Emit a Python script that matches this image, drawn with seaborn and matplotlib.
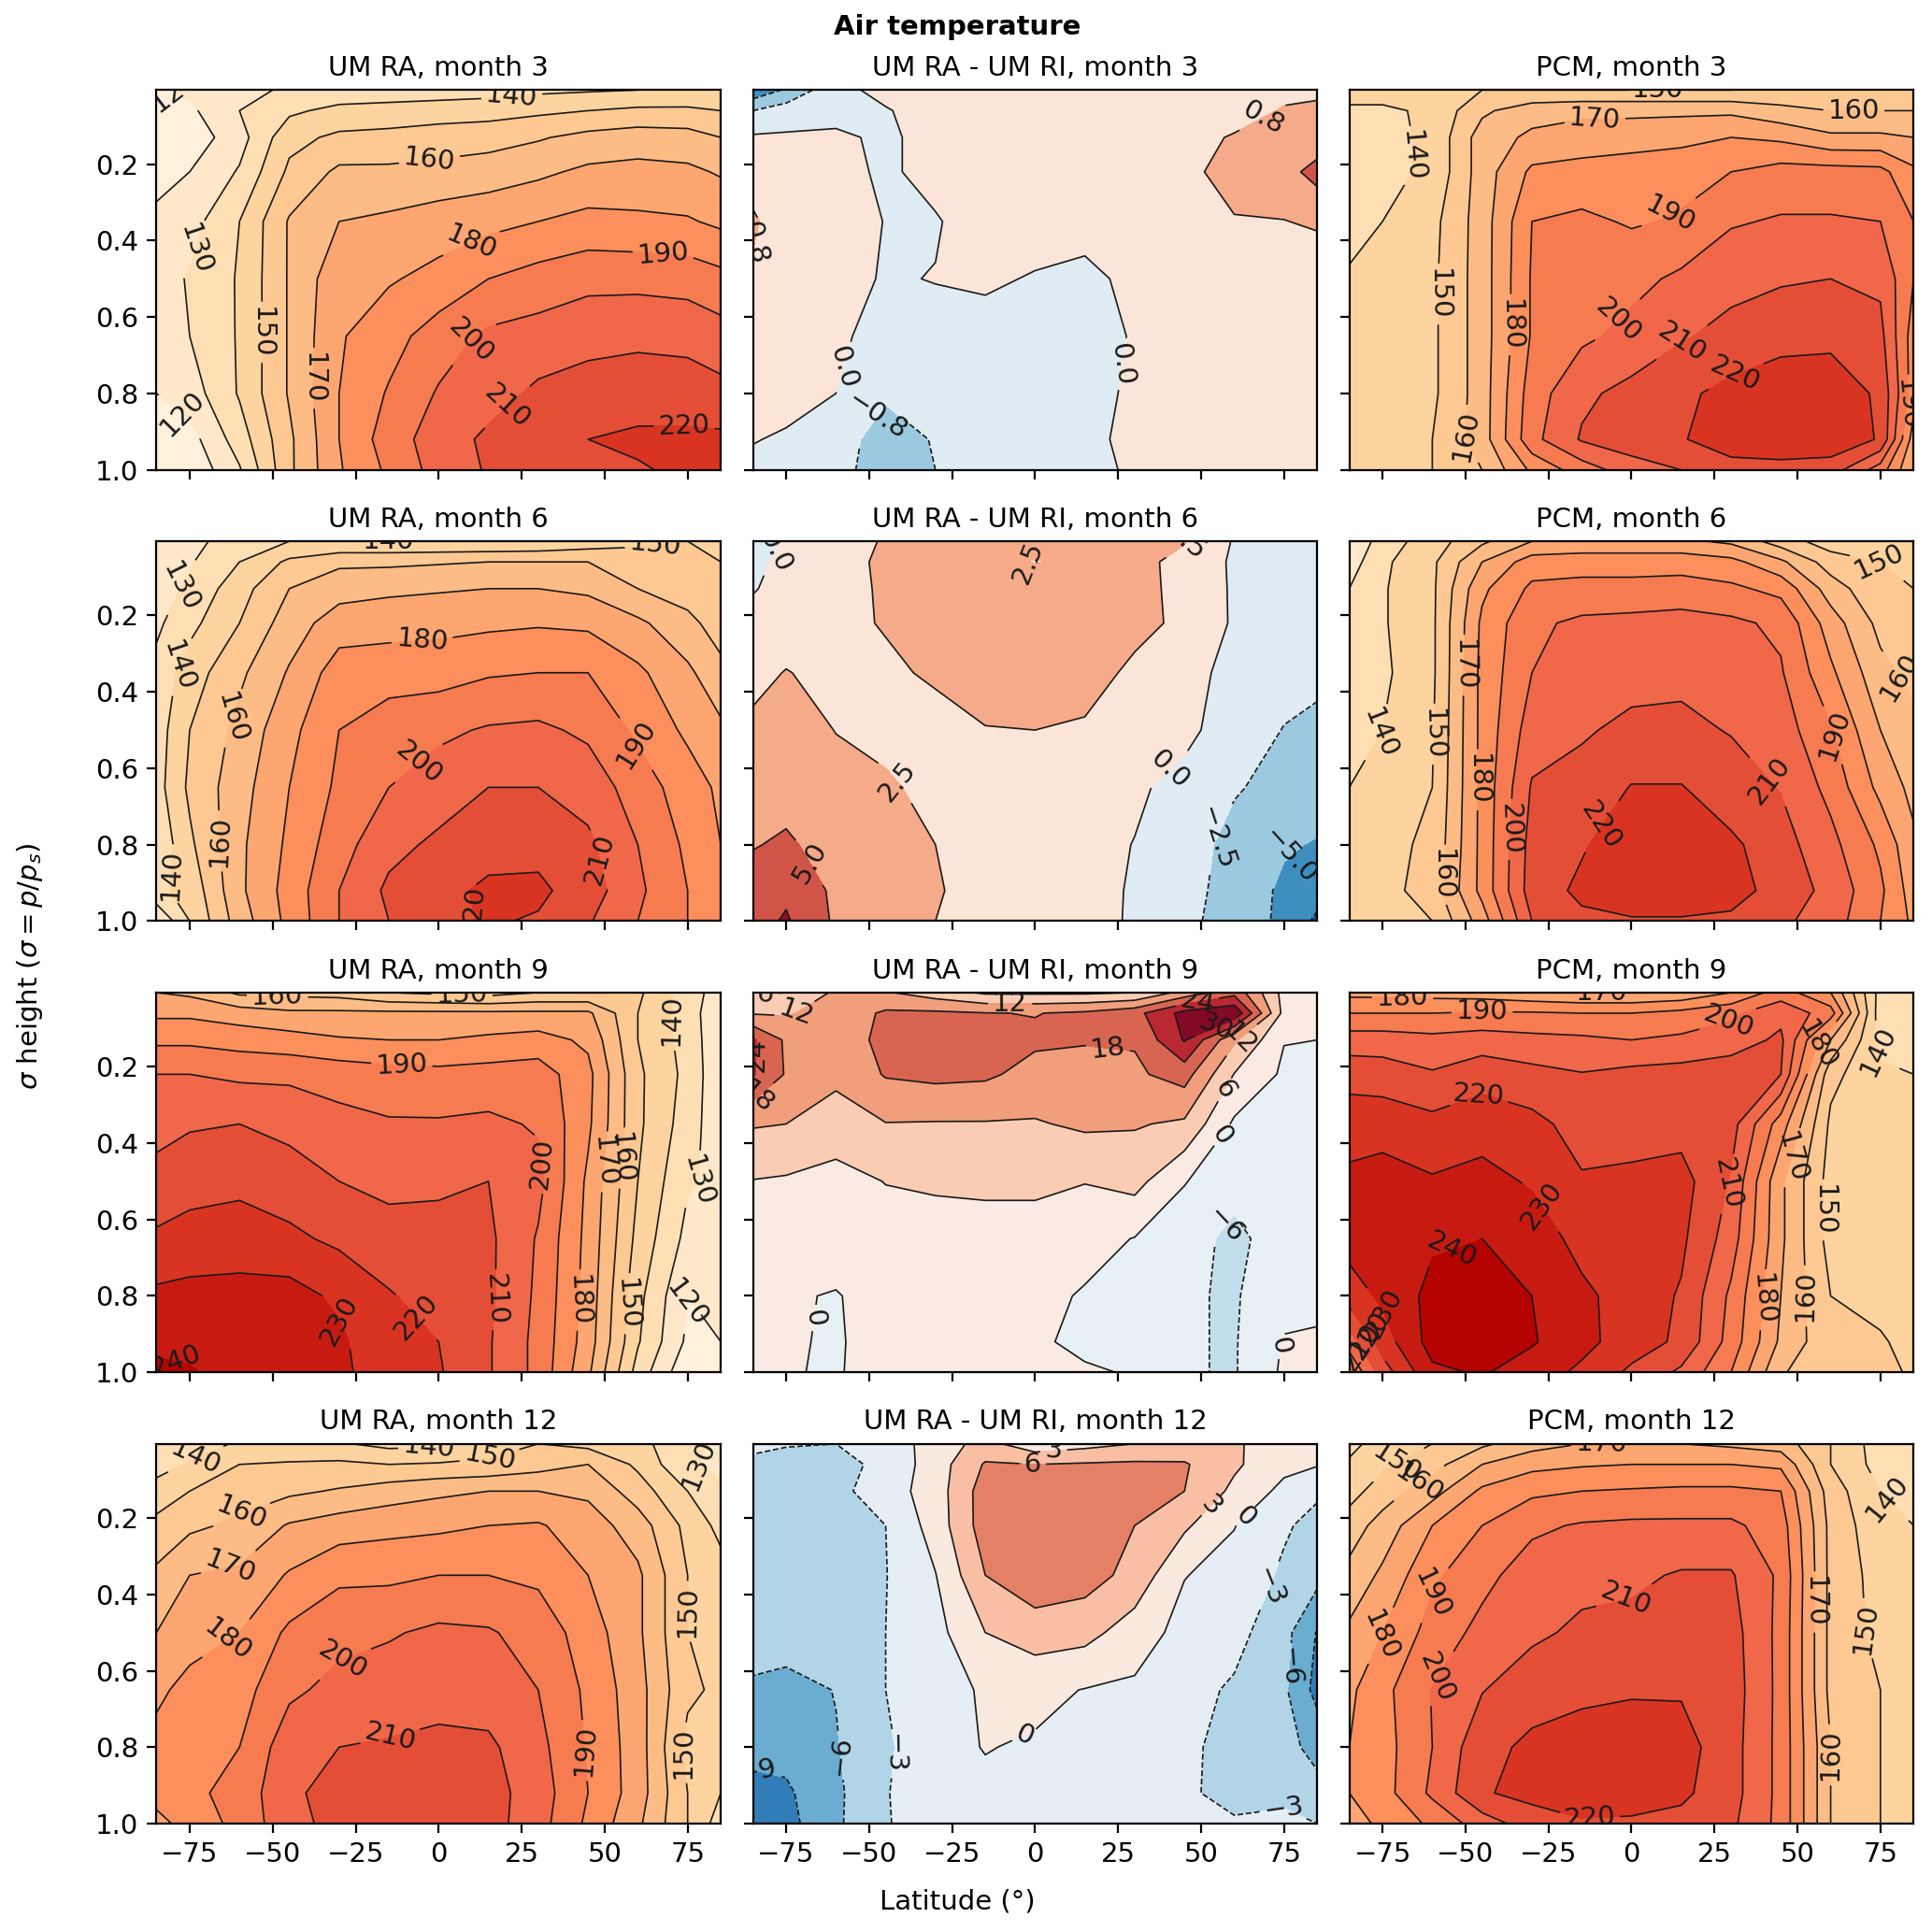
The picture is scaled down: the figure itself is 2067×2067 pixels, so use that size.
import numpy as np
import matplotlib
matplotlib.use("Agg")
import matplotlib.pyplot as plt
import seaborn as sns

lats = [-85, -75, -60, -45, -30, -15, 0, 15, 30, 45, 60, 75, 85]
sigma = [0.006, 0.06, 0.13, 0.22, 0.35, 0.5, 0.65, 0.8, 0.92, 1.0]

# rows follow sigma, columns follow lats
ra_m3 = [
    [118, 122, 128, 131, 133, 134, 135, 136, 138, 139, 140, 141, 141],
    [115, 118, 130, 138, 143, 144, 145, 146, 148, 150, 152, 152, 150],
    [110, 114, 126, 147, 152, 153, 155, 156, 159, 163, 165, 164, 160],
    [117, 120, 131, 152, 162, 162, 163, 165, 168, 172, 173, 172, 169],
    [122, 126, 140, 161, 170, 172, 175, 177, 180, 183, 182, 181, 178],
    [125, 131, 141, 161, 177, 179, 183, 190, 194, 197, 197, 196, 193],
    [127, 130, 141, 161, 179, 186, 195, 202, 204, 207, 208, 207, 204],
    [120, 125, 141, 161, 180, 191, 201, 206, 212, 214, 215, 215, 213],
    [113, 116, 135, 158, 180, 195, 205, 212, 216, 220, 222, 222, 222],
    [110, 112, 129, 158, 179, 192, 204, 211, 214, 216, 219, 222, 224],
]
diff_m3 = [
    [-2.2, -1.5, -0.2, 0.2, 0.2, 0.3, 0.3, 0.3, 0.3, 0.3, 0.3, 0.5, 0.6],
    [-0.8, -0.4, -0.2, -0.05, 0.3, 0.3, 0.3, 0.3, 0.3, 0.3, 0.3, 0.9, 1.0],
    [0.1, 0.1, 0.1, -0.1, 0.2, 0.3, 0.3, 0.3, 0.3, 0.4, 0.9, 1.1, 1.1],
    [0.5, 0.3, 0.2, -0.1, 0.2, 0.3, 0.3, 0.3, 0.3, 0.6, 1.1, 1.3, 1.9],
    [0.9, 0.4, 0.3, -0.02, -0.05, 0.3, 0.3, 0.3, 0.3, 0.6, 0.75, 0.78, 0.9],
    [0.7, 0.3, 0.2, -0.05, 0.02, 0.1, -0.05, -0.2, 0.2, 0.3, 0.3, 0.3, 0.3],
    [0.3, 0.2, 0.1, -0.2, -0.2, -0.25, -0.25, -0.25, 0.05, 0.3, 0.3, 0.3, 0.3],
    [0.2, 0.15, 0.0, -0.7, -0.4, -0.2, -0.2, -0.2, 0.1, 0.3, 0.3, 0.3, 0.3],
    [0.02, -0.05, -0.5, -1.1, -0.75, -0.2, -0.2, -0.1, 0.1, 0.3, 0.3, 0.3, 0.3],
    [-0.1, -0.1, -0.6, -1.1, -0.8, -0.2, -0.2, -0.2, 0.1, 0.3, 0.3, 0.3, 0.3],
]
pcm_m3 = [
    [145, 145, 148, 150, 150, 150, 150, 150, 150, 152, 157, 158, 158],
    [138, 138, 142, 158, 166, 168, 168, 168, 168, 163, 160, 160, 160],
    [138, 137, 142, 165, 172, 174, 175, 177, 180, 178, 172, 172, 170],
    [136, 137, 142, 165, 182, 184, 186, 187, 190, 194, 194, 193, 182],
    [134, 140, 147, 165, 190, 192, 189, 191, 199, 201, 201, 200, 190],
    [142, 144, 148, 165, 191, 197, 197, 202, 207, 209, 210, 208, 190],
    [145, 146, 148, 165, 191, 198, 203, 209, 213, 216, 217, 213, 185],
    [146, 147, 148, 165, 195, 208, 213, 218, 223, 227, 227, 218, 185],
    [146, 147, 150, 165, 197, 211, 216, 219, 227, 228, 227, 219, 175],
    [145, 146, 150, 160, 182, 195, 205, 210, 215, 216, 215, 195, 170],
]
ra_m6 = [
    [120, 127, 135, 140, 140, 140, 140, 140, 141, 144, 148, 150, 150],
    [122, 129, 140, 152, 158, 158, 159, 160, 160, 160, 155, 152, 150],
    [125, 132, 146, 160, 166, 168, 169, 170, 170, 168, 160, 155, 150],
    [128, 137, 150, 165, 175, 176, 177, 178, 179, 178, 172, 163, 155],
    [133, 145, 158, 171, 185, 186, 186, 189, 190, 190, 182, 172, 163],
    [135, 150, 163, 177, 190, 195, 198, 201, 202, 198, 188, 178, 172],
    [136, 152, 166, 180, 192, 200, 205, 210, 210, 206, 195, 185, 178],
    [132, 148, 168, 182, 196, 207, 212, 216, 217, 212, 200, 188, 180],
    [138, 143, 168, 184, 200, 212, 217, 222, 222, 215, 202, 190, 183],
    [120, 140, 165, 183, 200, 210, 217, 221, 219, 211, 200, 190, 185],
]
diff_m6 = [
    [-1, 0.2, 1.5, 2.7, 2.8, 2.8, 2.8, 2.8, 2.8, 2.6, -0.2, -1, -1],
    [-0.8, 0.8, 1.5, 3.0, 3.2, 2.8, 2.45, 2.7, 3, 2.0, -0.4, -1, -1],
    [-0.2, 1, 1.7, 2.8, 3.5, 3.5, 3.5, 3.5, 3.3, 1.8, -0.3, -1, -1.1],
    [1.0, 1.3, 1.8, 2.7, 3.6, 3.8, 3.8, 3.8, 3.2, 2.0, -0.3, -1.2, -1.3],
    [1.8, 2.6, 1.8, 2.0, 2.9, 3.7, 3.7, 3.5, 2.0, 0.7, -0.6, -1.5, -1.8],
    [3.0, 3.5, 2.45, 1.5, 1.5, 2.4, 2.5, 2.2, 1.4, 0.5, -1.0, -2.6, -3.2],
    [3.5, 3.7, 3.2, 3.0, 1.5, 1.1, 1.0, 0.9, 0.3, -0.6, -2.3, -3.2, -3.6],
    [4.8, 5.5, 3.6, 3.2, 2.5, 1.2, 1.0, 0.6, -0.05, -1.5, -3.2, -4.7, -5.2],
    [6.5, 7, 4.5, 3.3, 2.8, 1.2, 1, 0.7, -0.2, -1.8, -3.3, -5.5, -6.5],
    [6.5, 7.8, 4.6, 3.3, 2.5, 1, 1, 0.6, -0.2, -2.0, -3.4, -5.6, -8],
]
pcm_m6 = [
    [120, 135, 145, 158, 170, 172, 172, 172, 168, 155, 145, 140, 140],
    [125, 138, 148, 170, 185, 186, 186, 186, 183, 172, 155, 150, 147],
    [130, 139, 148, 178, 192, 193, 193, 194, 192, 187, 165, 152, 150],
    [132, 139, 148, 182, 198, 202, 203, 204, 202, 198, 175, 157, 152],
    [132, 138, 148, 183, 200, 206, 207, 208, 207, 201, 182, 163, 157],
    [135, 140, 149, 183, 205, 209, 212, 212, 209.5, 205, 191, 170, 163],
    [140, 146, 150, 183, 211, 213, 220.5, 220.5, 214, 209.5, 197, 177, 167],
    [142, 147, 152, 183, 214, 219, 226, 226, 222, 214, 203, 188, 172],
    [142, 146, 155, 183, 215, 222, 226, 226, 224, 216, 207, 192, 175],
    [140, 142, 150, 175, 210, 218, 219, 219, 218, 212, 205, 190, 178],
]
ra_m9 = [
    [170, 168, 158, 157, 156, 150, 148, 146, 150, 150, 152, 135, 125],
    [178, 178, 175, 172, 172, 172, 172, 172, 172, 172, 150, 135, 122],
    [188, 188, 186, 184, 181, 180, 180, 182, 184, 178, 150, 136, 122],
    [200, 200, 198, 198, 196, 194, 193, 194, 195, 183, 152, 137, 122],
    [208, 209, 210, 207, 203, 201, 201, 202, 199, 182, 152, 135, 123],
    [212, 216, 218, 215, 210, 208, 209, 210, 203, 178, 150, 131, 128],
    [222, 224, 224, 222, 218, 213, 212, 212, 199, 177, 147, 127, 125],
    [232, 233, 234, 234, 228, 221, 215, 212, 198, 176, 143, 120, 122],
    [238, 237, 236, 234, 232, 222, 220, 211, 197, 175, 141, 118, 120],
    [242, 241, 236, 234, 232, 225, 221, 211, 197, 172, 136, 112, 115],
]
diff_m9 = [
    [5, 6, 13, 12.5, 9, 5, 5, 5, 6, 14, 22, 4, 0],
    [11.5, 11.5, 14, 19, 19, 18.2, 17.8, 19, 22, 32, 35, 4, 1],
    [25, 17, 14, 20, 21, 21, 19, 18.3, 18.5, 30.5, 13, 0.2, 0],
    [24.5, 17.5, 13, 18.5, 19.5, 19, 16, 16.5, 17, 20.5, 5.8, -1, -1],
    [12.5, 12, 10, 11.8, 11.6, 11.6, 11.5, 13, 12.5, 11, -1, -2, -2],
    [5.8, 5.3, 3.5, 6.2, 7, 7.5, 7.5, 6.2, 8, 0.3, -4, -2, -2],
    [3, 3, 2.5, 3, 3, 3, 3, 2, -0.2, -3.5, -7.5, -3, -3],
    [2, 0.5, -0.3, 2, 3, 3, 1.5, -0.5, -3, -5.5, -6.5, -2.5, -2],
    [2, 0.5, -0.5, 2, 3, 3, 1, -1.5, -3.5, -5.5, -6.5, 0.5, 1],
    [1.5, 0.2, -0.3, 1.5, 3, 3, 1.5, 0.8, -0.5, -5.5, -6.5, 1, 2],
]
pcm_m9 = [
    [177, 177, 176, 175, 172, 170, 170, 172, 180, 195, 180, 136, 132],
    [190, 190, 190, 191, 191, 190, 190, 193, 198, 207, 195, 134, 130],
    [205, 205, 203, 205, 203, 202, 200, 202, 205, 212, 170, 137, 133],
    [216, 215, 211, 216, 213, 210.5, 213, 214, 216, 210, 153, 142, 140],
    [226, 226, 223, 226, 223, 216, 216, 216, 214, 185, 148, 144, 144],
    [232, 234, 231, 233, 229, 221, 222, 224, 209, 172, 146, 146, 146],
    [234, 236, 238.5, 240, 235, 227, 225, 222, 205, 172, 146, 146, 146],
    [225, 232, 243, 245, 240, 232, 226, 219, 198, 170, 150, 147, 147],
    [205, 225, 244, 246, 241, 233, 225, 218, 196, 168, 152.5, 151, 147],
    [190, 215, 238, 241, 235, 228, 218, 208, 190, 161, 153, 152, 149],
]
ra_m12 = [
    [132, 136, 141, 143, 141, 137, 138, 145, 150, 147, 143, 133, 128],
    [136, 141, 150, 151, 152, 150, 151, 152, 156, 160, 148, 131, 128],
    [144, 150, 156, 158, 161, 165, 168, 170, 170, 168, 155, 140, 132],
    [153, 158, 162, 171, 175, 177, 178, 180, 181, 175, 165, 147, 137],
    [162, 170, 172, 181, 188, 188, 190, 190, 188, 180, 172, 150, 144],
    [170, 176, 180, 192, 197, 199, 202, 201, 196, 185, 172, 150, 147],
    [178, 183, 186, 198, 203, 205, 207, 205, 200, 188, 174, 152, 148],
    [183, 187, 190, 206, 210, 211, 212, 212, 203, 189, 175, 147, 142],
    [186, 188, 193, 209, 212, 214, 215, 214, 205, 190, 175, 150, 140],
    [175, 186, 192, 208, 212, 214, 215, 214, 204, 188, 172, 150, 135],
]
diff_m12 = [
    [-2.5, -2.8, -3, -2, 1.5, 4, 1, 2, 3, 4, 3.5, 1, 0.3],
    [-3.5, -4, -4, -2.2, 1.5, 6.3, 6, 6.3, 6.5, 6.3, 3.5, 0.8, 0.2],
    [-4, -4, -3.8, -1.5, 1.5, 7.5, 8, 8, 7.5, 6, 2.3, -0.8, -2.5],
    [-4.2, -4.2, -4, -3, 1.3, 7.5, 8, 7.5, 6, 3.5, 0.1, -2.6, -4],
    [-4, -4, -3.8, -3.1, -0.1, 6, 8, 7.3, 5, 0.1, -1, -3.5, -5],
    [-4.5, -4.5, -3.8, -3, -1, 3, 4.5, 4, 1.5, -1, -2, -5, -9.2],
    [-6.5, -7, -5.9, -3, -1, 0.3, 0.7, -0.1, -0.5, -2, -3.4, -5.5, -10],
    [-8, -8, -6.2, -3.5, -0.8, 0.1, -0.3, -0.5, -0.8, -2.4, -4, -5, -7],
    [-10, -9.5, -6.6, -3.2, -0.8, -0.5, -0.5, -0.5, -0.8, -2.6, -3.8, -3.5, -5],
    [-10, -10, -6.5, -3.3, -0.8, -0.5, -0.1, -0.1, -0.8, -2.5, -2.7, -2.5, -3],
]
pcm_m12 = [
    [138, 143, 150, 158, 166, 170, 170, 170, 168, 165, 150, 135, 130],
    [141, 148, 156, 170, 177, 179, 180, 180, 180, 178, 150, 136, 130],
    [146, 155, 166, 182, 188, 190, 191, 192, 192, 190, 155, 140, 135],
    [155, 164, 180, 190, 198, 201, 202, 202, 202, 195, 157, 143, 140],
    [163, 172, 188, 197, 205, 207, 208, 211, 211, 198, 157, 146, 142],
    [172, 180, 194, 203, 208, 212, 213, 213, 214, 197, 157, 147, 145],
    [178, 187, 200.5, 209.5, 216, 218, 219, 219, 215, 197, 157, 150, 146],
    [180, 186, 200, 217, 222, 224, 225, 224, 214, 197, 160, 150, 147],
    [180, 186, 202, 219, 223, 225, 226, 222, 214, 197, 160, 150, 148],
    [176, 182, 192, 205, 215, 219, 218, 217, 212, 197, 160, 150, 148],
]

months = [3, 6, 9, 12]
ra_fields = [ra_m3, ra_m6, ra_m9, ra_m12]
diff_fields = [diff_m3, diff_m6, diff_m9, diff_m12]
pcm_fields = [pcm_m3, pcm_m6, pcm_m9, pcm_m12]
diff_step = [0.8, 2.5, 6, 3]
diff_nsteps = [4, 4, 6, 5]

# where the contour labels sit, (lat, sigma)
ra_labels = [
    [(-80, .015), (-77.6, .86), (-71, .43), (22, .02), (-54, .64), (-3, .17), (-37.5, .76), (9, .39), (67.5, .45), (11, .67), (19, .82), (74, .86)],
    [(-79, .12), (-79, .33), (-79, .88), (-65, .46), (-64, .79), (-5, .26), (55, .56), (-8.5, .56), (43, .85), (7, .98), (66, .07), (-15, .01)],
    [(-48.6, .016), (7, .012), (-11, .17), (68, .08), (34, .45), (51, .45), (56.5, .44), (79.5, .5), (75, .82), (56.5, .82), (40, .81), (17, .81), (-6, .85), (-26, .85), (-78, .93)],
    [(-73, .05), (-59, .2), (-62, .355), (-62, .54), (-29, .57), (-15, .76), (42, .81), (-3, .012), (15, .03), (77, .06), (75, .445), (78, .81)],
]
diff_labels = [
    [(-54, .74), (-47.5, .86), (24, .72), (68, .07), (-82.5, .41)],
    [(-78, .035), (-21, .03), (52, .01), (-41, .63), (-70.5, .86), (38, .58), (54, .78), (76, .82)],
    [(-7.5, .03), (22, .155), (49, .035), (54, .085), (63, .14), (57, .26), (55, .37), (55, .6), (-73, .85), (73, .93), (-82, .17), (-82, .3), (-71.6, .07), (-81, .02)],
    [(-.7, .06), (5.5, .01), (52, .16), (65, .21), (70.5, .38), (74, .59), (75, .92), (-57, .82), (-39, .82), (-83, .84), (8.5, .99)],
]
pcm_labels = [
    [(8, .02), (67, .03), (-11, .09), (-63, .18), (-55, .54), (-49, .91), (-38, .62), (11.5, .33), (-5, .6), (16, .68), (33, .79), (83, .83)],
    [(-79.5, .49), (-63, .51), (-50.5, .33), (-47, .63), (-36, .76), (-11, .74), (-56, .88), (42, .63), (62, .51), (81, .36), (75, .05)],
    [(-69, .02), (-45, .05), (-9, .012), (29, .07), (55, .14), (-47, .25), (71, .165), (47, .435), (31, .51), (-28, .57), (57.7, .575), (-54, .68), (40, .81), (52, .8), (-74.5, .845), (-77, .89), (-79, .92)],
    [(-9, .01), (-71, .05), (-64, .11), (77, .15), (-60, .4), (-75, .51), (-58, .62), (-2, .4), (56, .42), (70, .49), (60, .82), (-12.6, .985)],
]

sns.set_theme(style="ticks", context="notebook", font="DejaVu Sans", rc={
    "font.size": 10.5, "axes.titlesize": 10.5, "axes.labelsize": 10.5,
    "xtick.labelsize": 10.5, "ytick.labelsize": 10.5,
    "axes.edgecolor": "black", "xtick.color": "black", "ytick.color": "black",
    "text.color": "black", "axes.labelcolor": "black", "axes.linewidth": 0.8,
    "xtick.major.width": 0.8, "ytick.major.width": 0.8,
    "xtick.major.size": 3.5, "ytick.major.size": 3.5,
})
temp_cmap = sns.color_palette("OrRd", as_cmap=True)
diff_cmap = sns.color_palette("RdBu_r", as_cmap=True)

lon_grid, sig_grid = np.meshgrid(lats, sigma)


def minus_fmt(decimals):
    def fmt(v):
        return f"{v:.{decimals}f}".replace("-", "\u2212")
    return fmt


def draw(ax, field, levels, cmap, vmin, vmax, label_at, fmt, title):
    z = np.array(field, dtype=float)
    ax.contourf(lon_grid, sig_grid, z, levels=levels, cmap=cmap, vmin=vmin, vmax=vmax)
    cs = ax.contour(lon_grid, sig_grid, z, levels=levels, colors="k", linewidths=0.6)
    ax.clabel(cs, fmt=fmt, fontsize=10.5, inline=True, manual=label_at)
    ax.set_title(title, pad=5.5)


fig, axes = plt.subplots(4, 3, figsize=(10.335, 10.335), dpi=200, sharex=True, sharey=True)
fig.subplots_adjust(left=0.081, right=0.9905, top=0.9534, bottom=0.0561, wspace=0.0568, hspace=0.188)

temp_levels = np.arange(100, 271, 10)
for i, month in enumerate(months):
    draw(axes[i, 0], ra_fields[i], temp_levels, temp_cmap, 105, 267, ra_labels[i],
         minus_fmt(0), f"UM RA, month {month}")
    top = diff_step[i] * diff_nsteps[i]
    levels = diff_step[i] * np.arange(-diff_nsteps[i], diff_nsteps[i] + 1)
    draw(axes[i, 1], diff_fields[i], levels, diff_cmap, -top, top, diff_labels[i],
         minus_fmt(1 if i < 2 else 0), f"UM RA - UM RI, month {month}")
    draw(axes[i, 2], pcm_fields[i], temp_levels, temp_cmap, 105, 267, pcm_labels[i],
         minus_fmt(0), f"PCM, month {month}")

ax = axes[0, 0]
ax.set_xlim(-85, 85)
ax.set_ylim(1.0, 0.006)
ax.set_xticks([-75, -50, -25, 0, 25, 50, 75])
ax.set_yticks([0.2, 0.4, 0.6, 0.8, 1.0])
ax.xaxis.set_major_formatter(matplotlib.ticker.FuncFormatter(lambda v, p: f"{v:.0f}".replace("-", "\u2212")))

fig.suptitle("Air temperature", fontweight="bold", fontsize=10.5, y=0.986, va="center", x=0.4955)
fig.supxlabel("Latitude (°)", fontsize=10.5, y=0.0155, va="center", x=0.4955)
fig.supylabel(r"$\sigma$ height ($\sigma = p/p_s$)", fontsize=10.5, x=0.0155, ha="center", y=0.5)

plt.savefig("out.png", dpi=200)
